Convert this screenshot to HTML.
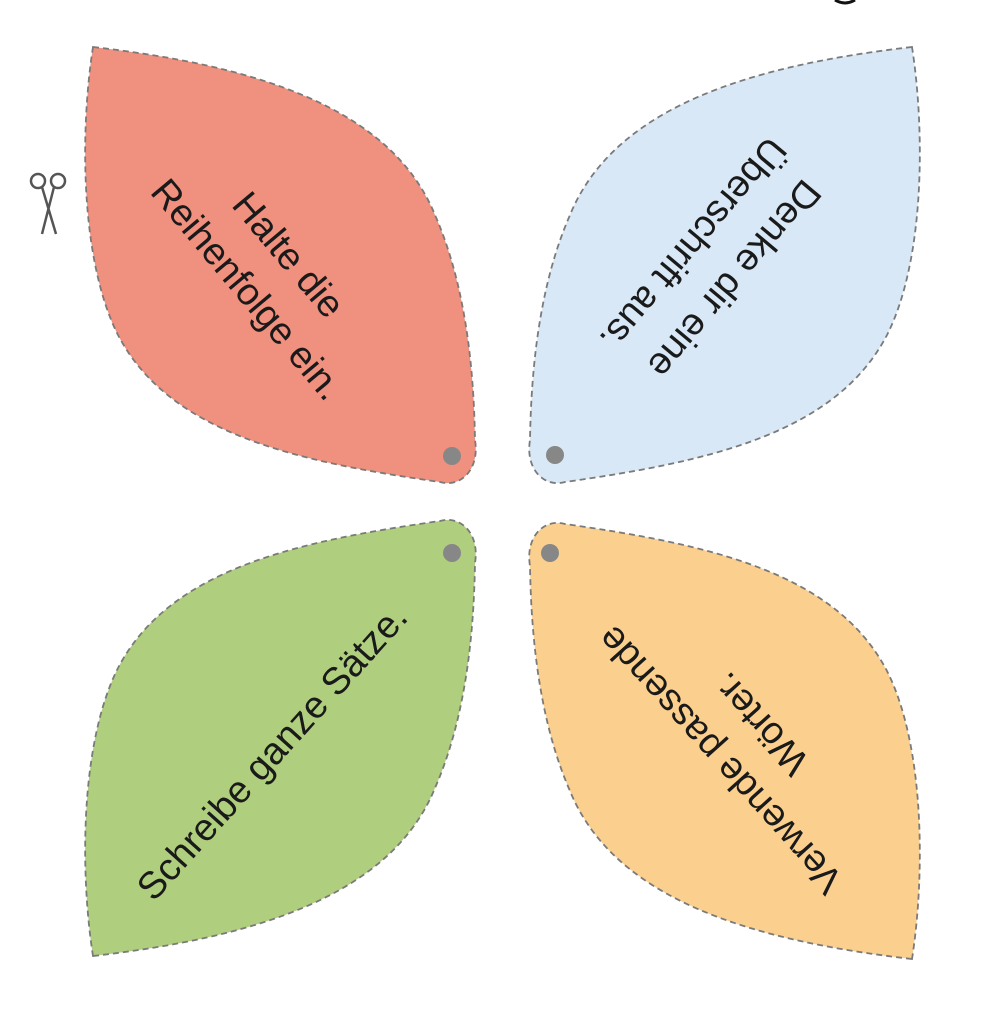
<!DOCTYPE html>
<html><head><style>
html,body{margin:0;padding:0;background:#fff;}
svg{display:block;}
text{font-family:"Liberation Sans","DejaVu Sans",sans-serif;font-size:38px;fill:#1a1a1a;}
</style></head><body>
<svg width="1000" height="1020" viewBox="0 0 1000 1020" xmlns="http://www.w3.org/2000/svg">
<defs>
<path id="leaf" d="M93,47 C250,65 390,105 435,215 C468,290 474,380 475,440 C480,470 460,488 440,482 C300,462 170,435 118,335 C80,260 80,130 93,47Z"/>
</defs>
<g stroke="#7a7a7a" stroke-width="1.8" stroke-dasharray="6,4">
<use href="#leaf" fill="#f0907e"/>
<use href="#leaf" fill="#d8e8f6" transform="translate(1005,0) scale(-1,1)"/>
<use href="#leaf" fill="#b0cf7e" transform="translate(0,1003) scale(1,-1)"/>
<use href="#leaf" fill="#fbd08f" transform="translate(1005,1006) scale(-1,-1)"/>
</g>
<g fill="#878787">
<circle cx="452" cy="456" r="9"/>
<circle cx="555" cy="455" r="9"/>
<circle cx="452" cy="553" r="9"/>
<circle cx="550" cy="553" r="9"/>
</g>
<g text-anchor="middle">
<g transform="translate(268,272) rotate(50)">
<text x="0" y="-14">Halte die</text>
<text x="0" y="40">Reihenfolge ein.</text>
</g>
<g transform="translate(714,262) rotate(130)">
<text x="0" y="-14">Denke dir eine</text>
<text x="0" y="40">Überschrift aus.</text>
</g>
<g transform="translate(272,752) rotate(-48)">
<text x="0" y="13">Schreibe ganze Sätze.</text>
</g>
<g transform="translate(740,742) rotate(228)">
<text x="0" y="-14">Verwende passende</text>
<text x="0" y="40">Wörter.</text>
</g>
</g>
<g stroke="#555" stroke-width="2.5" fill="none">
<circle cx="38" cy="181" r="7"/>
<circle cx="58" cy="181" r="7"/>
<path d="M42,187 L56,234 M54,187 L42,234"/>
</g>
<path d="M835,0 Q845,6 855,0" stroke="#111" stroke-width="3" fill="none"/>
</svg>
</body></html>
